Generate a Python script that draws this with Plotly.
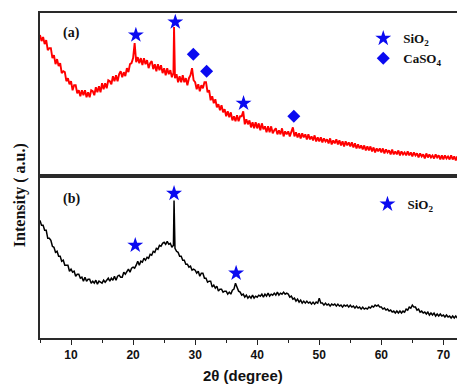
import plotly.graph_objects as go

# ---- data (arbitrary intensity units) ----
two_theta = [
    5, 5.25, 5.5, 5.75, 6, 6.25, 6.5, 6.75, 7, 7.25, 7.5, 7.75, 8, 8.25, 8.5, 8.75, 9, 9.25, 9.5, 9.75,
    10, 10.25, 10.5, 10.75, 11, 11.25, 11.5, 11.75, 12, 12.25, 12.5, 12.75, 13, 13.25, 13.5, 13.75, 14, 14.25, 14.5, 14.75,
    15, 15.25, 15.5, 15.75, 16, 16.25, 16.5, 16.75, 17, 17.25, 17.5, 17.75, 18, 18.25, 18.5, 18.75, 19, 19.25, 19.5, 19.75,
    20, 20.25, 20.5, 20.75, 21, 21.25, 21.5, 21.75, 22, 22.25, 22.5, 22.75, 23, 23.25, 23.5, 23.75, 24, 24.25, 24.5, 24.75,
    25, 25.25, 25.5, 25.75, 26, 26.25, 26.5, 26.6, 26.75, 27, 27.25, 27.5, 27.75, 28, 28.25, 28.5, 28.75, 29, 29.25, 29.5, 29.75,
    30, 30.25, 30.5, 30.75, 31, 31.25, 31.5, 31.75, 32, 32.25, 32.5, 32.75, 33, 33.25, 33.5, 33.75, 34, 34.25, 34.5, 34.75,
    35, 35.25, 35.5, 35.75, 36, 36.25, 36.5, 36.75, 37, 37.25, 37.5, 37.75, 38, 38.25, 38.5, 38.75, 39, 39.25, 39.5, 39.75,
    40, 40.25, 40.5, 40.75, 41, 41.25, 41.5, 41.75, 42, 42.25, 42.5, 42.75, 43, 43.25, 43.5, 43.75, 44, 44.25, 44.5, 44.75,
    45, 45.25, 45.5, 45.75, 46, 46.25, 46.5, 46.75, 47, 47.25, 47.5, 47.75, 48, 48.25, 48.5, 48.75, 49, 49.25, 49.5, 49.75,
    50, 50.25, 50.5, 50.75, 51, 51.25, 51.5, 51.75, 52, 52.25, 52.5, 52.75, 53, 53.25, 53.5, 53.75, 54, 54.25, 54.5, 54.75,
    55, 55.25, 55.5, 55.75, 56, 56.25, 56.5, 56.75, 57, 57.25, 57.5, 57.75, 58, 58.25, 58.5, 58.75, 59, 59.25, 59.5, 59.75,
    60, 60.25, 60.5, 60.75, 61, 61.25, 61.5, 61.75, 62, 62.25, 62.5, 62.75, 63, 63.25, 63.5, 63.75, 64, 64.25, 64.5, 64.75,
    65, 65.25, 65.5, 65.75, 66, 66.25, 66.5, 66.75, 67, 67.25, 67.5, 67.75, 68, 68.25, 68.5, 68.75, 69, 69.25, 69.5, 69.75,
    70, 70.25, 70.5, 70.75, 71, 71.25, 71.5, 71.75, 72, 72.25, 72.5, 72.75, 73,
]

# (a) red pattern
intensity_a = [
    140, 134, 138, 131, 135, 125, 127, 127, 117, 120, 111, 116, 109, 112, 102, 104, 103, 94, 97, 91,
    94, 85, 90, 90, 82, 85, 79, 85, 80, 85, 78, 83, 78, 85, 84, 80, 88, 83, 89, 83,
    92, 86, 92, 87, 95, 94, 91, 99, 94, 100, 94, 101, 104, 98, 103, 99, 107, 103, 111, 112,
    117, 132, 113, 118, 112, 117, 110, 117, 111, 115, 107, 112, 114, 106, 111, 104, 111, 105, 110, 102,
    107, 100, 107, 101, 105, 98, 102, 148, 97, 101, 93, 99, 93, 100, 93, 97, 90, 97, 100, 107, 95,
    93, 86, 91, 84, 90, 87, 93, 93, 83, 85, 75, 79, 72, 76, 68, 71, 65, 70, 63, 66,
    59, 64, 58, 63, 55, 59, 54, 60, 54, 59, 59, 64, 51, 56, 51, 55, 48, 53, 47, 53,
    47, 52, 45, 52, 46, 49, 43, 49, 43, 49, 42, 45, 47, 41, 45, 41, 47, 39, 44, 41,
    44, 39, 43, 48, 39, 43, 38, 42, 37, 42, 38, 41, 36, 41, 36, 39, 35, 40, 34, 38,
    34, 38, 33, 37, 34, 36, 32, 37, 31, 35, 32, 36, 31, 35, 30, 34, 29, 34, 30, 33,
    29, 33, 28, 32, 27, 31, 27, 30, 26, 30, 25, 29, 25, 29, 24, 28, 23, 27, 24, 27,
    23, 27, 22, 26, 23, 25, 21, 26, 21, 24, 21, 25, 20, 24, 21, 23, 20, 24, 20, 23,
    19, 23, 20, 22, 18, 22, 19, 21, 17, 22, 18, 21, 18, 20, 17, 21, 18, 20, 16, 20,
    16, 20, 17, 19, 16, 20, 16, 19, 15, 19, 16, 18, 15,
]

# (b) black pattern
intensity_b = [
    118, 113, 113, 108, 108, 100, 100, 98, 92, 91, 86, 87, 82, 82, 77, 78, 73, 73, 73, 67,
    69, 66, 67, 62, 64, 64, 60, 61, 57, 61, 57, 59, 59, 55, 57, 55, 58, 54, 57, 56,
    55, 58, 56, 58, 60, 57, 60, 58, 62, 58, 62, 63, 61, 61, 66, 64, 67, 69, 66, 70,
    71, 70, 73, 77, 73, 77, 76, 80, 78, 81, 80, 84, 83, 87, 86, 90, 89, 93, 92, 95,
    96, 94, 97, 94, 95, 91, 93, 138, 90, 87, 86, 82, 82, 78, 78, 74, 74, 71, 72, 68, 69,
    68, 65, 67, 62, 65, 65, 60, 60, 56, 57, 57, 51, 53, 50, 52, 47, 49, 49, 46, 47,
    47, 44, 46, 44, 48, 49, 55, 51, 47, 46, 43, 44, 41, 43, 40, 42, 40, 43, 40, 42,
    41, 43, 42, 44, 41, 44, 42, 45, 42, 44, 43, 45, 43, 46, 43, 45, 44, 46, 44, 45,
    44, 41, 42, 39, 40, 37, 39, 36, 38, 35, 37, 35, 37, 35, 36, 34, 36, 34, 36, 35,
    40, 35, 35, 33, 35, 33, 34, 32, 34, 33, 34, 32, 34, 32, 33, 31, 33, 32, 33, 31,
    33, 31, 32, 30, 32, 30, 31, 29, 31, 29, 30, 29, 31, 30, 32, 31, 33, 32, 33, 31,
    31, 29, 30, 28, 29, 27, 28, 26, 27, 25, 27, 25, 27, 25, 27, 26, 29, 28, 31, 30,
    33, 31, 31, 28, 29, 26, 27, 25, 26, 24, 26, 23, 25, 23, 25, 22, 24, 22, 24, 22,
    23, 21, 23, 21, 22, 20, 22, 20, 22, 20, 21, 20, 21,
]

# peak identification markers
sio2_a_x = [20.45, 26.8, 37.8]
sio2_a_y = [140, 153, 72]
caso4_a_x = [29.7, 31.85, 45.9]
caso4_a_y = [121, 104, 59]
sio2_b_x = [20.35, 26.6, 36.6]
sio2_b_y = [93, 145, 65]

x_ticks = [10, 20, 30, 40, 50, 60, 70]

BLUE = "#0a0af0"
INK = "#111111"
SERIF = "Liberation Serif, Times New Roman, serif"
SANS = "Liberation Sans, Arial, sans-serif"

fig = go.Figure()
fig.add_trace(go.Scatter(x=two_theta, y=intensity_a, mode="lines",
                         line=dict(color="#ff0000", width=1.9), xaxis="x2", yaxis="y2",
                         showlegend=False, hoverinfo="skip"))
fig.add_trace(go.Scatter(x=two_theta, y=intensity_b, mode="lines",
                         line=dict(color="#000000", width=1.5), xaxis="x", yaxis="y",
                         showlegend=False, hoverinfo="skip"))
fig.add_trace(go.Scatter(x=sio2_a_x, y=sio2_a_y, mode="markers", name="SiO<sub>2</sub>",
                         marker=dict(symbol="star", size=12, color=BLUE),
                         xaxis="x2", yaxis="y2", legend="legend"))
fig.add_trace(go.Scatter(x=caso4_a_x, y=caso4_a_y, mode="markers", name="CaSO<sub>4</sub>",
                         marker=dict(symbol="diamond", size=10, color=BLUE),
                         xaxis="x2", yaxis="y2", legend="legend"))
fig.add_trace(go.Scatter(x=sio2_b_x, y=sio2_b_y, mode="markers", name="SiO<sub>2</sub>",
                         marker=dict(symbol="star", size=12, color=BLUE),
                         xaxis="x", yaxis="y", legend="legend2"))

frame = dict(showline=True, linecolor="#2a2a2a", linewidth=1.8, mirror=True,
             showgrid=False, zeroline=False)

# page body has an 8px margin, so the figure is sized/margined to land at the same pixels
fig.update_layout(
    width=457, height=378,
    margin=dict(l=32, r=1, t=5, b=48),
    paper_bgcolor="white", plot_bgcolor="white",
    xaxis=dict(domain=[0, 1], range=[5, 73], anchor="y", tickvals=x_ticks,
               ticks="outside", ticklen=5, tickwidth=1.3, tickcolor="#222222",
               minor=dict(dtick=5, tick0=5, ticks="outside", ticklen=3, tickwidth=1.1,
                          tickcolor="#222222"),
               tickfont=dict(family=SANS, size=12, color=INK, weight="bold"), **frame),
    xaxis2=dict(domain=[0, 1], range=[5, 73], anchor="y2", matches="x",
                showticklabels=False, ticks="", **frame),
    yaxis=dict(domain=[0, 0.5], range=[0, 163], showticklabels=False, ticks="", **frame),
    yaxis2=dict(domain=[0.5, 1], range=[0, 162], showticklabels=False, ticks="", **frame),
    legend=dict(x=0.766, y=0.968, xanchor="left", yanchor="top", bgcolor="rgba(0,0,0,0)",
                font=dict(family=SERIF, size=13, color=INK, weight="bold"), itemwidth=30),
    legend2=dict(x=0.776, y=0.458, xanchor="left", yanchor="top", bgcolor="rgba(0,0,0,0)",
                 font=dict(family=SERIF, size=13, color=INK, weight="bold"), itemwidth=30),
    annotations=[
        dict(text="(a)", xref="paper", yref="paper", x=0.049, y=0.938,
             xanchor="left", yanchor="middle", showarrow=False,
             font=dict(family=SERIF, size=14, color=INK, weight="bold")),
        dict(text="(b)", xref="paper", yref="paper", x=0.049, y=0.428,
             xanchor="left", yanchor="middle", showarrow=False,
             font=dict(family=SERIF, size=14, color=INK, weight="bold")),
        dict(text="Intensity (\u00a0a.u.)", xref="paper", yref="paper", x=-0.047, y=0.44,
             xanchor="center", yanchor="middle", textangle=-90, showarrow=False,
             font=dict(family=SERIF, size=16, color=INK, weight="bold")),
        dict(text="2θ (degree)", xref="paper", yref="paper", x=0.482, y=-0.114,
             xanchor="center", yanchor="middle", showarrow=False,
             font=dict(family=SANS, size=15, color=INK, weight="bold")),
    ],
)

fig.write_html("out.html")
